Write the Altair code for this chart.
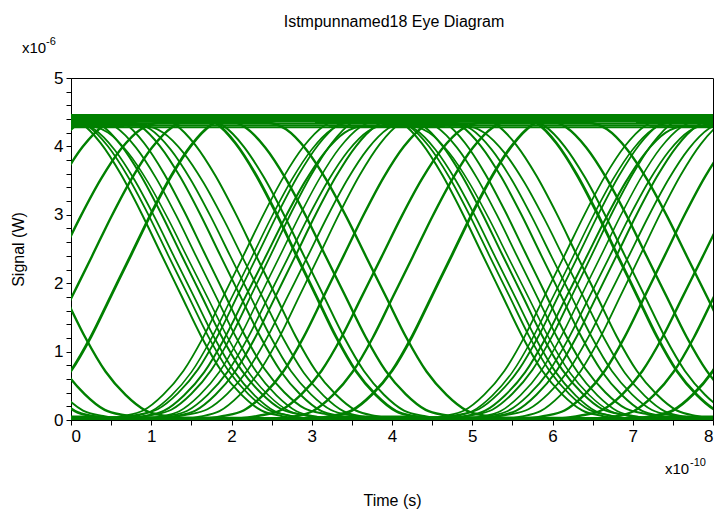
import altair as alt
import pandas as pd

# ---- data (time in 1e-10 s, signal in 1e-6 W) ----
# normalised shape of one full transition, sampled every 0.25e-10 s
fall_shape = [1.0, 0.977, 0.909, 0.807, 0.682, 0.545, 0.409, 0.273, 0.159, 0.080, 0.027, 0.009, 0.0]
shape_step = 0.25

# falling edges: start time of the descent, high level, low level, line width
fall_starts = [-0.13, -0.04, 0.04, 0.12, 0.21, 0.31, 0.41, 0.61, 0.74, 0.90, 1.05, 1.55, 1.65, 1.92, 2.43]
fall_hi     = [4.45, 4.40, 4.35, 4.42, 4.30, 4.38, 4.45, 4.40, 4.35, 4.30, 4.42, 4.45, 4.40, 4.38, 4.35]
fall_lo     = [0.02, 0.03, 0.01, 0.04, 0.02, 0.01, 0.05, 0.02, 0.03, 0.01, 0.02, 0.01, 0.02, 0.03, 0.02]
fall_width  = [2.0, 1.8, 1.8, 2.0, 1.6, 1.8, 2.0, 2.0, 1.8, 1.8, 2.0, 2.8, 2.0, 2.4, 2.4]

# rising edges: start time of the ascent, low level, high level, line width
rise_starts = [0.40, 0.50, 0.58, 0.66, 0.75, 0.85, 0.95, 1.05, 1.20, 1.35, 1.65, 2.12, 2.51, 3.00]
rise_lo     = [0.02, 0.01, 0.04, 0.02, 0.03, 0.01, 0.02, 0.02, 0.04, 0.01, 0.02, 0.03, 0.01, 0.02]
rise_hi     = [4.40, 4.35, 4.42, 4.30, 4.45, 4.38, 4.32, 4.40, 4.36, 4.44, 4.40, 4.35, 4.38, 4.42]
rise_width  = [1.8, 1.6, 1.8, 2.0, 1.8, 1.6, 1.8, 2.0, 1.8, 1.8, 2.4, 2.4, 2.4, 2.8]

# steady levels running across the whole window
flat_levels = [4.46, 4.43, 4.40, 4.37, 4.34, 4.31, 4.28, 0.01, 0.03]

copies = [-4.0, 0.0, 4.0, 8.0]

rows = []
tid = 0


def add(times, vals, w):
    global tid
    for t, v in zip(times, vals):
        rows.append({"t": t, "v": v, "trace": tid, "w": w})
    tid += 1


for c in copies:
    for s, hi, lo, w in zip(fall_starts, fall_hi, fall_lo, fall_width):
        s = s + c
        times = [s - 1.0, s - 0.5] + [s + shape_step * k for k in range(len(fall_shape))] + [s + 3.5, s + 4.0]
        vals = [hi, hi] + [lo + (hi - lo) * f for f in fall_shape] + [lo, lo]
        add(times, vals, w)
    for r, lo, hi, w in zip(rise_starts, rise_lo, rise_hi, rise_width):
        r = r + c
        shp = list(reversed(fall_shape))
        times = [r - 1.0, r - 0.5] + [r + shape_step * k for k in range(len(shp))] + [r + 3.5, r + 4.0]
        vals = [lo, lo] + [lo + (hi - lo) * f for f in shp] + [hi, hi]
        add(times, vals, w)

for lv in flat_levels:
    add([-0.2, 8.2], [lv, lv], 2.0)

df = pd.DataFrame(rows)

FONT = "Liberation Sans Narrow, Liberation Sans, Arial"
GREEN = "#008000"
TITLE = "Istmpunnamed18 Eye Diagram"

x_ticks = [i * 0.5 for i in range(17)]
y_ticks = [round(i * 0.2, 1) for i in range(26)]
int_label = "datum.value % 1 == 0 ? format(datum.value, 'd') : ''"

lines = alt.Chart(df).mark_line(clip=True, interpolate="monotone", color=GREEN).encode(
    x=alt.X("t:Q", scale=alt.Scale(domain=[0, 8], nice=False, zero=False),
            axis=alt.Axis(values=x_ticks, labelExpr=int_label,
                          title="Time (s)", titleX=321, titleY=80, titleBaseline="middle",
                          titleAlign="center")),
    y=alt.Y("v:Q", scale=alt.Scale(domain=[0, 5], nice=False, zero=False),
            axis=alt.Axis(values=y_ticks, labelExpr=int_label,
                          title="Signal (W)", titleX=-53, titleY=171, titleAlign="center",
                          titleBaseline="middle")),
    detail="trace:N",
    strokeWidth=alt.StrokeWidth("w:Q", scale=None),
)

title_df = pd.DataFrame({"txt": [TITLE]})
exp_df = pd.DataFrame({"txt": ["x10", "x10"], "which": ["y", "x"]})
sup_df = pd.DataFrame({"txt": ["-6", "-10"], "which": ["y", "x"]})

title_mark = alt.Chart(title_df).mark_text(
    font=FONT, fontSize=16, align="center", baseline="middle", color="black"
).encode(text="txt:N", x=alt.value(323), y=alt.value(-56))

y_exp = alt.Chart(exp_df[exp_df.which == "y"]).mark_text(
    font=FONT, fontSize=15, align="left", baseline="middle", color="black"
).encode(text="txt:N", x=alt.value(-49), y=alt.value(-30))
y_sup = alt.Chart(sup_df[sup_df.which == "y"]).mark_text(
    font=FONT, fontSize=11, align="left", baseline="middle", color="black"
).encode(text="txt:N", x=alt.value(-25), y=alt.value(-36))
x_exp = alt.Chart(exp_df[exp_df.which == "x"]).mark_text(
    font=FONT, fontSize=15, align="left", baseline="middle", color="black"
).encode(text="txt:N", x=alt.value(594), y=alt.value(391))
x_sup = alt.Chart(sup_df[sup_df.which == "x"]).mark_text(
    font=FONT, fontSize=11, align="left", baseline="middle", color="black"
).encode(text="txt:N", x=alt.value(619), y=alt.value(385))

chart = alt.layer(lines, title_mark, y_exp, y_sup, x_exp, x_sup).properties(
    width=642, height=342,
    autosize=alt.AutoSizeParams(type="none"),
    padding={"left": 71, "top": 78, "right": 12, "bottom": 96},
).configure_view(stroke="black", strokeWidth=1).configure_axis(
    grid=False, domainColor="black", tickColor="black", labelColor="black",
    titleColor="black", labelFont=FONT, titleFont=FONT, labelFontSize=17,
    titleFontSize=16, titleFontWeight="normal", tickSize=5, labelPadding=3,
    domainWidth=1, tickWidth=1,
)

chart.save("out.html", embed_options={"renderer": "svg", "actions": False})
